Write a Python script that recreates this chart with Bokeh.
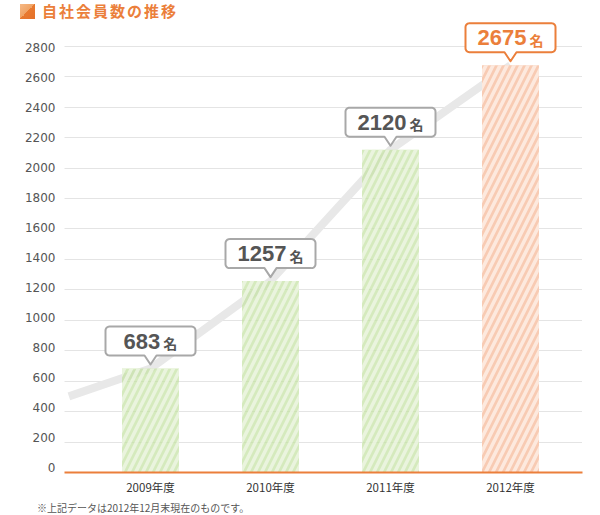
import numpy as np
from bokeh.plotting import figure
from bokeh.layouts import column
from bokeh.models import ColumnDataSource, Range1d, LinearAxis, FixedTicker, Grid, Div
from bokeh.core.properties import value
from bokeh.embed import file_html
from bokeh.resources import INLINE

# ---------------- data ----------------
categories = ["2009年度", "2010年度", "2011年度", "2012年度"]
members = [683, 1257, 2120, 2675]
trend_x = [-0.68, 0, 1, 2, 3]
trend_y = [500, 683, 1257, 2120, 2675]
y_ticks = list(range(0, 2801, 200))
title_text = "自社会員数の推移"
unit_text = "名"
note_text = "※上記データは2012年12月末現在のものです。"

# ---------------- layout ----------------
W, H = 600, 515
HEAD_H, FOOT_H = 20, 17
MAIN_H = H - HEAD_H - FOOT_H
FL, FR = 64, 582                 # frame left/right (px)
FT, FB = 0, 452                  # frame top/bottom inside the main figure (px)
X0, X1 = -0.7167, 3.6
PXY = 0.15225                    # px per member (bars, grid)
Y0, Y1 = 0, (FB - FT) / PXY
PXX = (FR - FL) / (X1 - X0)      # px per category
LAB_PXY, LAB_OFF = 0.15, 5       # tick labels: 30px per 200, starting 5px above the axis

ORANGE = "#eb7f3b"

# ---------------- header ----------------
head = Div(width=W, height=HEAD_H, margin=0, text=(
    f'<div style="position:relative;width:{W}px;height:{HEAD_H}px;">'
    '<div style="position:absolute;left:20px;top:4px;width:15px;height:15px;'
    'background:linear-gradient(135deg,#f6b985 0%,#f0a263 50%,#e8792f 50%,#e4712a 100%);"></div>'
    '<div style="position:absolute;left:42px;top:-1px;height:24px;line-height:24px;'
    "font-family:'Noto Sans CJK JP';font-weight:bold;font-size:15px;letter-spacing:2px;"
    f'color:{ORANGE};white-space:nowrap;">{title_text}</div></div>'))

# ---------------- main chart ----------------
p = figure(width=W, height=MAIN_H, output_backend="svg", toolbar_location=None, title=None,
           x_range=Range1d(X0, X1), y_range=Range1d(Y0, Y1),
           x_axis_location=None, y_axis_location=None,
           min_border_left=FL, min_border_right=W - FR, min_border_top=FT,
           min_border_bottom=MAIN_H - FB)
p.grid.visible = False
p.outline_line_color = None

lab_start = -LAB_OFF / LAB_PXY
lab_end = lab_start + (FB - FT) / LAB_PXY
p.extra_y_ranges = {"lab": Range1d(lab_start, lab_end)}

p.add_layout(Grid(dimension=1, ticker=FixedTicker(ticks=y_ticks), grid_line_color="#c9c9c9",
                  grid_line_dash="1 1", grid_line_width=1))

yaxis = LinearAxis(y_range_name="lab", ticker=FixedTicker(ticks=y_ticks),
                   axis_line_color=None, major_tick_line_color=None,
                   minor_tick_line_color=None, major_tick_out=0, major_tick_in=0,
                   major_label_standoff=9, major_label_text_font="DejaVu Sans",
                   major_label_text_font_size="12px", major_label_text_color="#555555")
p.add_layout(yaxis, "left")

xaxis = LinearAxis(ticker=FixedTicker(ticks=list(range(len(categories)))),
                   major_label_overrides={i: c for i, c in enumerate(categories)},
                   axis_line_color=ORANGE, axis_line_width=2,
                   major_tick_line_color=None, minor_tick_line_color=None,
                   major_tick_out=0, major_tick_in=0, major_label_standoff=6,
                   major_label_text_font="Noto Sans CJK JP",
                   major_label_text_font_size="11.5px", major_label_text_color="#333333")
p.add_layout(xaxis, "below")

# trend line
p.line(trend_x, trend_y, line_width=8, line_color="#e8e8e8")

# bars
idx = list(range(len(members)))
bar_src = ColumnDataSource(dict(
    x=idx, top=members,
    fill=["#c3e1a1", "#c3e1a1", "#c3e1a1", "#f8cbb3"],
    hatch=["#eff6e6", "#eff6e6", "#eff6e6", "#fde9de"],
    alpha=[0.7, 0.7, 0.7, 1.0],
    halpha=[0.8, 0.8, 0.8, 1.0],
))
p.vbar(x="x", top="top", width=0.475, source=bar_src, fill_color="fill", fill_alpha="alpha",
       hatch_pattern="/", hatch_color="hatch", hatch_alpha="halpha", hatch_scale=14,
       hatch_weight=3.6, line_color=None)

# callouts
TIP_GAP, PTR_H, PTR_W, BOX_W, BOX_H, R = 4, 9, 6, 90, 29, 4


def outline():
    pts = [(0, 0), (PTR_W, PTR_H)]
    hw = BOX_W / 2
    b, t = PTR_H, PTR_H + BOX_H
    corners = [((hw - R, b + R), -90, 0), ((hw - R, t - R), 0, 90),
               ((-hw + R, t - R), 90, 180), ((-hw + R, b + R), 180, 270)]
    for (cx, cy), a0, a1 in corners:
        for a in np.linspace(np.radians(a0), np.radians(a1), 7):
            pts.append((cx + R * np.cos(a), cy + R * np.sin(a)))
    pts.append((-PTR_W, PTR_H))
    return pts


shape = outline()
xs, ys = [], []
for i, v in zip(idx, members):
    xs.append([i + dx / PXX for dx, dy in shape])
    ys.append([v + (TIP_GAP + dy) / PXY for dx, dy in shape])
p.patches(xs, ys, fill_color="white", line_color=["#a8a8a8"] * 3 + [ORANGE], line_width=2,
          line_join="round")

labels = [str(v) for v in members]
nx, kx = [], []
for s in labels:
    nw = len(s) * 12.2
    tot = nw + 3 + 14
    nx.append(-tot / 2 + nw)
    kx.append(-tot / 2 + nw + 3)
mid = -(TIP_GAP + PTR_H + BOX_H / 2)
txt_src = ColumnDataSource(dict(x=idx, y=members, label=labels, unit=[unit_text] * 4,
                                nx=nx, kx=kx, ny=[mid] * 4, ky=[mid + 2] * 4,
                                color=["#555555"] * 3 + [ORANGE]))
p.text(x="x", y="y", text="label", x_offset="nx", y_offset="ny", source=txt_src,
       text_align="right", text_baseline="middle", text_font=value("Liberation Sans"),
       text_font_style="bold", text_font_size="22px", text_color="color")
p.text(x="x", y="y", text="unit", x_offset="kx", y_offset="ky", source=txt_src,
       text_align="left", text_baseline="middle", text_font=value("Noto Sans CJK JP"),
       text_font_style="bold", text_font_size="14px", text_color="color")

# ---------------- footer ----------------
foot = Div(width=W, height=FOOT_H, margin=0, text=(
    f'<div style="position:relative;width:{W}px;height:{FOOT_H}px;">'
    '<div style="position:absolute;left:37px;top:1px;height:18px;line-height:18px;'
    "font-family:'Noto Sans CJK JP';font-size:10px;color:#555555;white-space:nowrap;\">"
    f'{note_text}</div></div>'))

layout = column(head, p, foot, spacing=0)
open("out.html", "w").write(file_html(layout, INLINE))
